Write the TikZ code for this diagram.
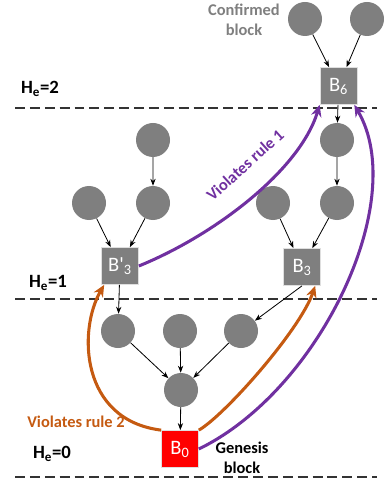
\documentclass[tikz,border=0pt]{standalone}
\usepackage{amsmath}
\usepackage{fontspec}
\setmainfont{Carlito}
\usepackage{tikz}
\usetikzlibrary{arrows.meta}
\definecolor{blockgray}{HTML}{7F7F7F}
\definecolor{rulepurple}{HTML}{7030A0}
\definecolor{ruleorange}{HTML}{C55A11}

\begin{document}
\begin{tikzpicture}[scale=0.03]
\tikzstyle{every node}+=[inner sep=0pt]
\tikzstyle{blk}=[circle, fill=blockgray, minimum size=1.02cm]
\tikzstyle{box}=[rectangle, fill=blockgray, draw=white!75!gray, line width=0.6pt, minimum size=1.11cm, text=white, font=\fontsize{17.5}{20}\selectfont]
\tikzstyle{link}=[draw=black, line width=0.7pt, -{Stealth[length=6pt,width=4.5pt]}]
\tikzstyle{viol}=[line width=2.6pt, -{Stealth[length=10pt,width=9pt]}]
\tikzstyle{level}=[draw=black!80, line width=1pt, dash pattern=on 8.5pt off 4.2pt]
\tikzstyle{lbl}=[font=\fontsize{14}{17}\selectfont\bfseries, align=center]
\tikzstyle{hlbl}=[font=\fontsize{16}{19}\selectfont\bfseries]
\useasboundingbox (0,0) rectangle (383,-485);
% height levels
\draw [level] (15,-108) -- (377,-108);
\draw [level] (15,-299) -- (377,-299);
\draw [level] (15,-477) -- (377,-477);
\node [hlbl] (h2) at (40,-89) {H\textsubscript{e}=2};
\node [hlbl] (h1) at (48,-283) {H\textsubscript{e}=1};
\node [hlbl] (h0) at (52,-454) {H\textsubscript{e}=0};
% blocks
\node [blk] (t1) at (305,-19) {};
\node [blk] (t2) at (367,-19) {};
\node [box] (b6) at (338.5,-86) {B\textsubscript{6}};
\node [blk] (r1) at (337,-140) {};
\node [blk] (r2) at (337,-203) {};
\node [blk] (r3) at (273,-203) {};
\node [box] (b3) at (302,-267) {B\textsubscript{3}};
\node [blk] (l1) at (153,-140) {};
\node [blk] (l2) at (153,-203) {};
\node [blk] (l3) at (89,-203) {};
\node [box] (b3p) at (120,-266) {B\textquotesingle\textsubscript{3}};
\node [blk] (m1) at (118,-331) {};
\node [blk] (m2) at (180,-331) {};
\node [blk] (m3) at (241,-331) {};
\node [blk] (m4) at (181,-390) {};
\node [box, fill=red] (b0) at (180,-449) {B\textsubscript{0}};
% references
\draw [link] (t1) -- (b6);
\draw [link] (t2) -- (b6);
\draw [link] (b6) -- (r1);
\draw [link] (r1) -- (r2);
\draw [link] (r2) -- (b3);
\draw [link] (r3) -- (b3);
\draw [link] (l1) -- (l2);
\draw [link] (l2) -- (b3p);
\draw [link] (l3) -- (b3p);
\draw [link] (b3p) -- (m1);
\draw [link] (b3.south) -- (m3);
\draw [link] (m1) -- (m4);
\draw [link] (m2) -- (m4);
\draw [link] (m3) -- (m4);
\draw [link] (m4) -- (b0);
% violations
\draw [viol, rulepurple] (b3p.east) .. controls (215,-235) and (300,-170) .. (b6.south west);
\draw [viol, rulepurple] (b0.east) .. controls (320,-390) and (410,-200) .. (b6.-50);
\draw [viol, ruleorange] (b0.north west) .. controls (80,-420) and (78,-330) .. (b3p.-130);
\draw [viol, ruleorange] (b0.north east) .. controls (225,-415) and (300,-330) .. (b3.-55);
% labels
\node [lbl, text=blockgray] (conf) at (244,-20) {Confirmed\\block};
\node [lbl, text=rulepurple, rotate=42] (v1) at (245,-165) {Violates rule 1};
\node [lbl, text=ruleorange] (v2) at (76,-422) {Violates rule 2};
\node [lbl] (gen) at (242,-458) {Genesis\\block};
\end{tikzpicture}
\end{document}
